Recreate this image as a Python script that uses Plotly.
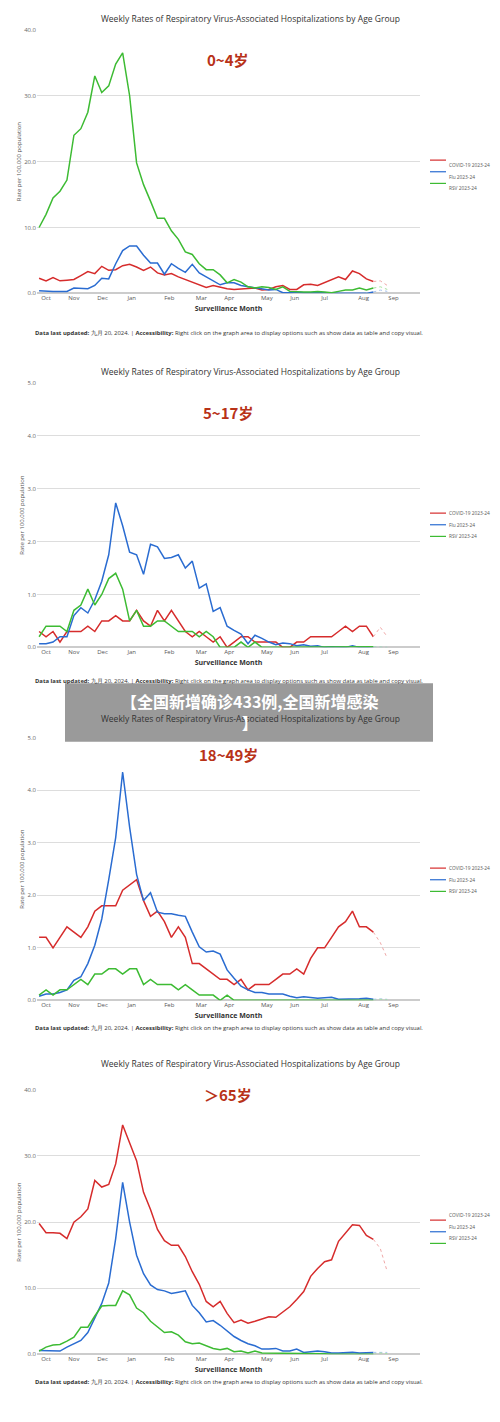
import plotly.graph_objects as go

weeks = list(range(49))
ext_x = [48, 49, 50]
month_pos = [1, 5, 9.1, 13.3, 18.7, 23.3, 27.3, 32.7, 36.7, 41, 46.6, 50.9]
month_lab = ["Oct", "Nov", "Dec", "Jan", "Feb", "Mar", "Apr", "May", "Jun", "Jul", "Aug", "Sep"]

# 0-4
c04 = [2.3,1.9,2.4,1.9,2.0,2.1,2.7,3.3,3.0,4.1,3.5,3.6,4.2,4.4,4.0,3.5,4.0,3.1,2.8,3.0,2.5,2.1,1.8,1.3,0.9,1.2,0.9,0.7,0.6,0.7,0.7,0.8,0.5,0.6,1.0,1.2,0.6,0.6,1.3,1.4,1.2,1.6,2.0,2.5,2.1,3.4,3.0,2.2,1.8]
f04 = [0.4,0.3,0.3,0.3,0.3,0.8,0.8,0.7,1.2,2.3,2.2,4.5,6.5,7.2,7.2,5.8,4.6,4.6,2.9,4.5,3.8,3.2,4.4,3.1,2.5,1.9,1.3,1.6,1.6,1.2,1.0,0.9,0.6,0.5,0.6,0.1,0.1,0.2,0.1,0.1,0.2,0.1,0.1,0.0,0.0,0.0,0.0,0.0,0.2]
r04 = [10,12,14.5,15.5,17.2,24,25,27.5,33,30.5,31.5,34.8,36.5,30,19.8,16.5,14,11.4,11.4,9.5,8.2,6.3,5.9,4.5,3.6,3.6,2.8,1.6,2.1,1.7,1.0,0.8,1.0,0.9,0.6,1.0,0.3,0.2,0.2,0.2,0.3,0.2,0.1,0.3,0.5,0.5,0.8,0.5,0.8]
# 5-17
c517 = [0.3,0.2,0.3,0.1,0.3,0.3,0.3,0.4,0.3,0.5,0.5,0.6,0.5,0.5,0.7,0.5,0.4,0.7,0.5,0.7,0.5,0.3,0.2,0.3,0.2,0.1,0.2,0.0,0.1,0.2,0.2,0.1,0.1,0.1,0.1,0.0,0.0,0.1,0.1,0.2,0.2,0.2,0.2,0.3,0.4,0.3,0.4,0.4,0.2]
f517 = [0.07,0.07,0.1,0.2,0.2,0.6,0.75,0.65,0.9,1.25,1.75,2.73,2.3,1.8,1.75,1.38,1.95,1.9,1.68,1.7,1.75,1.5,1.63,1.12,1.2,0.68,0.75,0.4,0.32,0.25,0.07,0.23,0.17,0.1,0.05,0.08,0.07,0.03,0.05,0.02,0.03,0.0,0.01,0.01,0.0,0.03,0.0,0.0,0.01]
r517 = [0.2,0.4,0.4,0.4,0.3,0.7,0.8,1.1,0.8,1.0,1.3,1.4,1.1,0.5,0.7,0.4,0.4,0.5,0.5,0.4,0.3,0.3,0.3,0.2,0.3,0.2,0.0,0.0,0.0,0.1,0.0,0.1,0,0,0,0,0,0,0,0,0,0,0,0.01,0.01,0,0,0,0.01]
# 18-49
c1849 = [1.2,1.2,1.0,1.2,1.4,1.3,1.2,1.4,1.7,1.8,1.8,1.8,2.1,2.2,2.3,1.9,1.6,1.7,1.5,1.2,1.4,1.2,0.7,0.7,0.6,0.5,0.4,0.4,0.3,0.4,0.2,0.3,0.3,0.3,0.4,0.5,0.5,0.6,0.5,0.8,1.0,1.0,1.2,1.4,1.5,1.7,1.4,1.4,1.3]
f1849 = [0.08,0.12,0.12,0.15,0.2,0.38,0.45,0.7,1.05,1.55,2.3,3.1,4.35,3.3,2.4,1.9,2.05,1.68,1.65,1.65,1.62,1.6,1.3,1.02,0.92,0.94,0.88,0.58,0.42,0.27,0.2,0.15,0.15,0.12,0.12,0.12,0.08,0.05,0.07,0.06,0.04,0.05,0.06,0.02,0.02,0.03,0.03,0.04,0.02]
r1849 = [0.1,0.2,0.1,0.2,0.2,0.3,0.4,0.3,0.5,0.5,0.6,0.6,0.5,0.6,0.6,0.3,0.4,0.3,0.3,0.3,0.2,0.3,0.2,0.1,0.1,0.1,0.0,0.1,0.0] + [0]*20
# 65+
c65 = [19.8,18.4,18.4,18.3,17.5,20.0,20.8,22.0,26.3,25.3,25.7,28.8,34.7,32.0,29.3,24.5,21.9,18.9,17.2,16.5,16.5,14.8,12.5,10.6,8.0,7.2,8.0,6.2,4.8,5.2,4.7,5.0,5.4,5.7,5.6,6.4,7.2,8.3,9.5,11.8,13.0,14.0,14.3,17.1,18.3,19.6,19.5,18.0,17.4]
f65 = [0.6,0.6,0.6,0.5,1.1,1.6,2.1,3.3,5.4,7.7,10.8,17.5,26.0,20.0,15.0,12.2,10.5,9.8,9.6,9.2,9.4,9.6,7.4,6.3,4.9,5.1,4.4,3.5,2.7,2.1,1.6,1.3,0.8,0.8,0.9,0.5,0.5,0.8,0.3,0.4,0.5,0.4,0.2,0.2,0.3,0.3,0.2,0.3,0.3]
r65 = [0.5,1.1,1.4,1.5,2.0,2.6,4.1,4.1,5.8,7.3,7.4,7.4,9.6,9.0,7.0,6.3,5.0,4.1,3.3,3.4,2.9,1.9,1.6,1.7,1.3,0.9,0.7,0.9,0.4,0.5,0.2,0.5,0.2,0.2,0.1,0.1] + [0.1]*6 + [0.0]*7

ext = [  # dotted continuation (covid, flu, rsv)
    ([1.8, 1.9, 1.2], [0.2, 0.5, 0.3], [0.8, 1.0, 0.6]),
    ([0.2, 0.38, 0.2], [0.01, 0.01, 0.0], [0.01, 0.0, 0.0]),
    ([1.3, 1.1, 0.8], [0.02, 0.03, 0.02], [0.0, 0.02, 0.01]),
    ([17.4, 16.0, 12.5], [0.3, 0.3, 0.3], [0.0, 0.2, 0.1]),
]

panels = [
    ("0~4岁", c04, f04, r04, 40, 10, 26, 291),
    ("5~17岁", c517, f517, r517, 5, 1, 381, 647),
    ("18~49岁", c1849, f1849, r1849, 5, 1, 738, 1002),
    ("＞65岁", c65, f65, r65, 40, 10, 1092, 1358),
]
names = ["COVID-19 2023-24", "Flu 2023-24", "RSV 2023-24"]
cols = ["#d62c2c", "#2a6cd1", "#3dbb33"]
light = ["#f0a8a8", "#a8c4ee", "#a8e0a0"]
H, W = 1422, 500
fig = go.Figure()
ann = []
shapes = []
for i, (lab, c, f, r, ymax, dt, ytop, ybot) in enumerate(panels):
    k = "" if i == 0 else str(i + 1)
    for s, (vals, nm, col) in enumerate(zip((c, f, r), names, cols)):
        fig.add_trace(go.Scatter(x=weeks, y=vals, mode="lines", name=nm, showlegend=False,
                                 line=dict(color=col, width=1.5), xaxis="x" + k, yaxis="y" + k))
        fig.add_trace(go.Scatter(x=ext_x, y=ext[i][s], mode="lines", showlegend=False,
                                 line=dict(color=light[s], width=1, dash="dot"),
                                 xaxis="x" + k, yaxis="y" + k))
        ly = ytop + 131 + 11.7 * s
        shapes.append(dict(type="line", xref="paper", yref="paper", x0=430 / W, x1=446 / W,
                           y0=1 - ly / H, y1=1 - ly / H, line=dict(color=col, width=1.2)))
        ann.append(dict(text=nm, x=447 / W, y=1 - ly / H, xref="paper", yref="paper", xanchor="left",
                        showarrow=False, font=dict(size=4.8, color="#555")))
    fig.update_layout({
        "xaxis" + k: dict(domain=[37 / W, 420 / W], anchor="y" + k, range=[-0.3, 54.7],
                          tickvals=month_pos, ticktext=month_lab, showgrid=False,
                          tickfont=dict(size=6, color="#555"), zeroline=False, showline=False,
                          title=dict(text="<b>Surveillance Month</b>", font=dict(size=7, color="#333"), standoff=4)),
        "yaxis" + k: dict(domain=[1 - ybot / H, 1 - ytop / H], anchor="x" + k, range=[0, ymax],
                          dtick=dt, tickformat=".1f", gridcolor="#dddddd", zeroline=True,
                          zerolinecolor="#cccccc", tickfont=dict(size=6, color="#666"),
                          title=dict(text="Rate per 100,000 population", font=dict(size=6, color="#555"), standoff=2)),
    })
    ann.append(dict(text="Weekly Rates of Respiratory Virus-Associated Hospitalizations by Age Group",
                    x=0.5, y=1 - (ytop - 19) / H, xref="paper", yref="paper", showarrow=False,
                    font=dict(size=8.5, color="#333")))
    ann.append(dict(text="<b>" + lab + "</b>", x=0.456, y=1 - (ytop + 17) / H, xref="paper", yref="paper",
                    showarrow=False, font=dict(size=15, color="#b83218", family="Noto Sans CJK SC")))
    ann.append(dict(text="<b>Data last updated:</b> 九月 20, 2024. | <b>Accessibility:</b> Right click on the graph area to display options such as show data as table and copy visual.",
                    x=33 / W, y=1 - (ybot + 34) / H, xref="paper", yref="paper", xanchor="left",
                    showarrow=False, font=dict(size=5.9, color="#333")))

ann.append(dict(text="<b>【全国新增确诊433例,全国新增感染<br>】</b>", x=0.5, y=1 - 711 / H, xref="paper", yref="paper",
                showarrow=False, align="center", font=dict(size=16, color="white", family="Noto Sans CJK SC")))
shapes.append(dict(type="rect", xref="paper", yref="paper", x0=65 / W, x1=433 / W,
                   y0=1 - 742 / H, y1=1 - 683 / H, fillcolor="rgba(120,120,120,0.75)", line=dict(width=0), layer="above"))
fig.update_layout(
    width=W, height=H, margin=dict(l=0, r=0, t=0, b=0), plot_bgcolor="white", paper_bgcolor="white",
    font=dict(family="Open Sans"), annotations=ann, shapes=shapes,
)
fig.write_html("out.html", config={"displayModeBar": False},
               post_script="document.body.style.margin='0';document.body.style.overflow='hidden';")
